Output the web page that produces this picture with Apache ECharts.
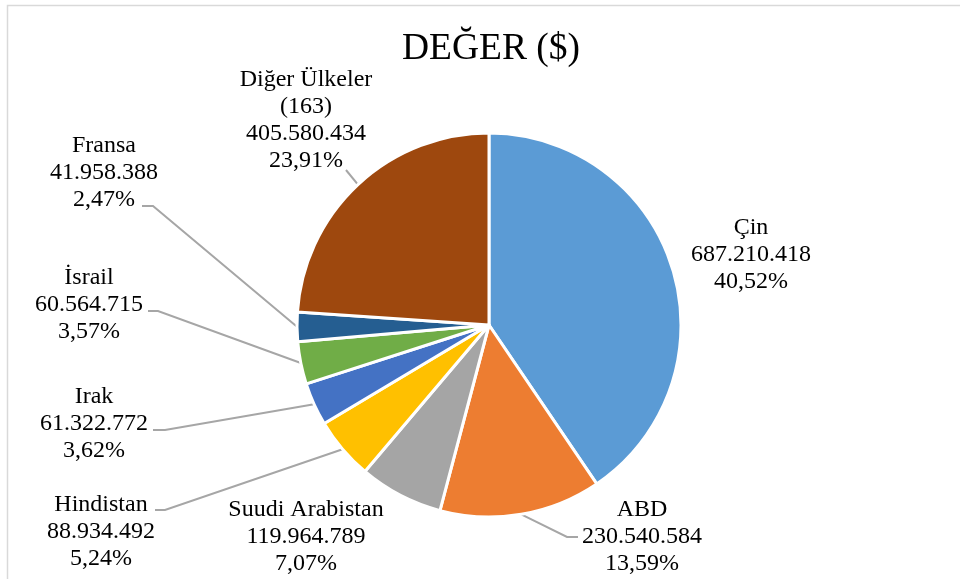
<!DOCTYPE html>
<html lang="tr">
<head>
    <meta charset="utf-8"/>
    <title>DEĞER ($)</title>
    <script src="https://cdn.jsdelivr.net/npm/echarts@6/dist/echarts.min.js"></script>
    <style type="text/css">
        html, body { height: 100%; margin: 0; background: #fff; }
        #main { width: 960px; height: 579px; }
    </style>
</head>
<body>
<div id="main"></div>
<script>
    // values, clockwise from 12 o'clock
    var countries = ['Çin', 'ABD', 'Suudi Arabistan', 'Hindistan', 'Irak', 'İsrail', 'Fransa', 'Diğer Ülkeler\n(163)'];
    var values = [687210418, 230540584, 119964789, 88934492, 61322772, 60564715, 41958388, 405580434];
    var colors = ['#5B9BD5', '#ED7D31', '#A5A5A5', '#FFC000', '#4472C4', '#70AD47', '#255E91', '#9E480E'];

    // where Excel placed each data label (centre of text block) and its leader line
    var labelSpots = [
        {x: 751, y: 255},
        {x: 642, y: 537, line: [[567, 537], [578, 537]]},
        {x: 306, y: 537},
        {x: 101, y: 532, line: [[165, 510], [155, 510]]},
        {x: 94, y: 424, line: [[165, 430], [153, 430]]},
        {x: 89, y: 305, line: [[158, 311], [148, 311]]},
        {x: 104, y: 173, line: [[153, 206], [142, 206]]},
        {x: 306, y: 120, line: [[346, 170], [346, 170]]}
    ];

    var total = values.reduce(function (a, b) { return a + b; }, 0);

    function trNumber(v) {
        return String(v).replace(/\B(?=(\d{3})+(?!\d))/g, '.');
    }

    var pieData = countries.map(function (name, i) {
        return {
            name: name,
            value: values[i],
            itemStyle: {color: colors[i]},
            labelLine: {show: !!labelSpots[i].line}
        };
    });

    var myChart = echarts.init(document.getElementById('main'));

    var option = {
        animation: false,
        title: {
            text: 'DEĞER ($)',
            left: 486,
            top: 25,
            textAlign: 'center',
            textStyle: {
                fontFamily: 'Liberation Serif',
                fontWeight: 'normal',
                fontSize: 37.5,
                color: '#000'
            }
        },
        graphic: [{
            type: 'rect',
            shape: {x: 7.5, y: 5.5, width: 1000, height: 1000},
            style: {fill: null, stroke: '#D9D9D9', lineWidth: 1.5},
            silent: true
        }],
        series: [{
            type: 'pie',
            center: [489, 325],
            radius: 192,
            startAngle: 90,
            clockwise: true,
            avoidLabelOverlap: false,
            itemStyle: {borderColor: '#fff', borderWidth: 3},
            label: {
                show: true,
                position: 'outside',
                fontFamily: 'Liberation Serif',
                fontSize: 24,
                lineHeight: 27,
                color: '#000',
                align: 'center',
                formatter: function (p) {
                    return p.name + '\n' + trNumber(p.value) + '\n' +
                        (p.value / total * 100).toFixed(2).replace('.', ',') + '%';
                }
            },
            labelLine: {
                show: true,
                length: 10,
                length2: 10,
                lineStyle: {color: '#A6A6A6', width: 2}
            },
            labelLayout: function (p) {
                var s = labelSpots[p.dataIndex];
                var out = {x: s.x, y: s.y, align: 'center', verticalAlign: 'middle'};
                if (s.line && p.labelLinePoints) {
                    out.labelLinePoints = [p.labelLinePoints[0]].concat(s.line);
                }
                return out;
            },
            data: pieData
        }]
    };

    myChart.setOption(option);
</script>
</body>
</html>
